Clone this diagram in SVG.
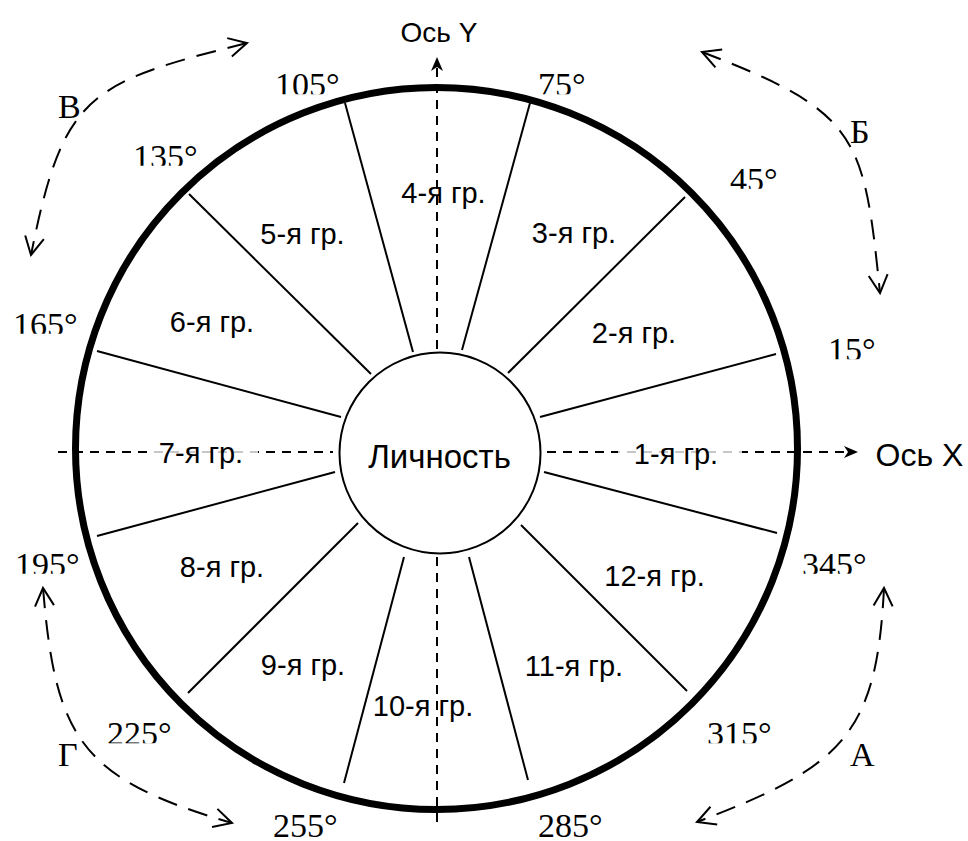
<svg xmlns="http://www.w3.org/2000/svg" width="968" height="841" viewBox="0 0 968 841">
  <style>
    .sans { font-family: "Liberation Sans", Arial, sans-serif; fill: #000; }
    .serif { font-family: "Liberation Serif", "Times New Roman", serif; fill: #000; }
    .grp { font-size: 29px; text-anchor: middle; }
    .deg { font-size: 34px; }
    .sector { font-size: 34px; }
    .spoke { stroke: #000; stroke-width: 2; fill: none; }
    .axis { stroke: #000; stroke-width: 2; stroke-dasharray: 9 7; fill: none; }
    .turn { stroke: #000; stroke-width: 2; stroke-dasharray: 20 12; fill: none; marker-start: url(#chev); marker-end: url(#chev); }
    .veil { fill: #fff; fill-opacity: 0.78; }
  </style>
  <defs>
    <!-- open chevron for the rotation arrows -->
    <marker id="chev" viewBox="-20 -12 23 24" refX="0" refY="0" markerWidth="23" markerHeight="24" markerUnits="userSpaceOnUse" orient="auto-start-reverse">
      <path d="M-18,-9.5 L0,0 L-18,9.5" fill="none" stroke="#000" stroke-width="2" stroke-dasharray="none"/>
    </marker>
    <!-- trims the bottom edge of the angle captions -->
    <clipPath id="trim" clipPathUnits="objectBoundingBox">
      <rect x="-0.1" y="0" width="1.2" height="0.765"/>
    </clipPath>
  </defs>

  <rect width="968" height="841" fill="#fff"/>

  <!-- outer wheel -->
  <g id="wheel">
    <circle cx="436.5" cy="448.5" r="361" fill="none" stroke="#000" stroke-width="7"/>
  </g>

  <!-- sector dividers -->
  <g id="spokes" class="spoke">
    <line x1="540" y1="417" x2="776" y2="354"/>
    <line x1="508" y1="373" x2="685" y2="197"/>
    <line x1="462" y1="350" x2="530" y2="103"/>
    <line x1="413" y1="352" x2="345" y2="103"/>
    <line x1="371" y1="374" x2="189" y2="194"/>
    <line x1="341" y1="417" x2="97" y2="351"/>
    <line x1="335" y1="472" x2="97" y2="536"/>
    <line x1="358" y1="523" x2="188" y2="693"/>
    <line x1="404" y1="557" x2="344" y2="783"/>
    <line x1="469" y1="557" x2="528" y2="780"/>
    <line x1="521" y1="525" x2="687" y2="691"/>
    <line x1="544" y1="472" x2="777" y2="533"/>
  </g>

  <!-- axes and rotation arrows -->
  <g id="connectors">
    <line class="axis" x1="58" y1="452" x2="333" y2="452"/>
    <line class="axis" x1="547" y1="452" x2="848" y2="452"/>
    <polygon points="858,452 844,446 848,452 844,458" fill="#000"/>
    <line class="axis" x1="437" y1="68" x2="437" y2="349"/>
    <line class="axis" x1="437" y1="557" x2="437" y2="824"/>
    <polygon points="437,57 431,71 437,67 443,71" fill="#000"/>

    <path class="turn" d="M247,43 C87,83 63,95 31,255"/>
    <path class="turn" d="M702,52 C859,112 864,136 880,293"/>
    <path class="turn" d="M43,588 C55.5,739 81,779 232,823"/>
    <path class="turn" d="M884,588 C876.7,734.4 843.4,766.4 697,822"/>
  </g>

  <!-- centre node -->
  <g id="personality">
    <circle cx="440" cy="453" r="100.5" fill="#fff" stroke="#000" stroke-width="2"/>
    <text class="sans" x="439.5" y="468" font-size="33" text-anchor="middle">Личность</text>
  </g>

  <!-- group labels -->
  <g id="groups" class="sans grp">
    <text x="634" y="343">2-я гр.</text>
    <text x="574" y="243">3-я гр.</text>
    <text x="443.5" y="203">4-я гр.</text>
    <text x="302.5" y="244">5-я гр.</text>
    <text x="212" y="332">6-я гр.</text>
    <text x="222" y="577">8-я гр.</text>
    <text x="303" y="675">9-я гр.</text>
    <text x="423" y="716">10-я гр.</text>
    <text x="574" y="676">11-я гр.</text>
    <text x="654.5" y="586">12-я гр.</text>
  </g>

  <!-- labels that sit on the X axis, with a light backing -->
  <g id="axis-groups">
    <rect class="veil" x="150" y="438" width="108" height="30"/>
    <rect class="veil" x="618" y="438" width="124" height="30"/>
    <text class="sans grp" x="201" y="463">7-я гр.</text>
    <text class="sans grp" x="676" y="464">1-я гр.</text>
  </g>

  <!-- axis captions -->
  <g id="axis-y-caption">
    <text class="sans" x="400.5" y="42" font-size="28">Ось Y</text>
  </g>
  <g id="axis-x-caption">
    <text class="sans" x="875.5" y="466" font-size="32">Ось X</text>
  </g>

  <!-- angle captions -->
  <g id="angles" class="serif deg">
    <text x="828" y="361" clip-path="url(#trim)">15°</text>
    <text x="730" y="190.5" clip-path="url(#trim)">45°</text>
    <text x="538" y="96" clip-path="url(#trim)">75°</text>
    <text x="275" y="96" clip-path="url(#trim)">105°</text>
    <text x="133" y="167.5" clip-path="url(#trim)">135°</text>
    <text x="13" y="335.5" clip-path="url(#trim)">165°</text>
    <text x="15" y="575.5" clip-path="url(#trim)">195°</text>
    <text x="107" y="745" clip-path="url(#trim)">225°</text>
    <text x="273" y="837">255°</text>
    <text x="538" y="837">285°</text>
    <text x="707" y="745" clip-path="url(#trim)">315°</text>
    <text x="802" y="575.5" clip-path="url(#trim)">345°</text>
  </g>

  <!-- quadrant letters -->
  <g id="quadrants" class="serif sector">
    <text x="850" y="766">А</text>
    <text x="850" y="143">Б</text>
    <text x="58" y="118">В</text>
    <text x="58" y="766">Г</text>
  </g>
</svg>
